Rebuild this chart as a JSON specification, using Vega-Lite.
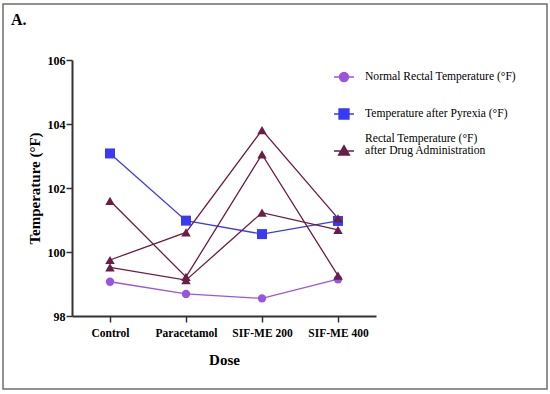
{
  "$schema": "https://vega.github.io/schema/vega-lite/v6.json",
  "autosize": "none",
  "width": 544,
  "height": 385,
  "padding": {"left": 3, "top": 4, "right": 3, "bottom": 5},
  "background": "white",
  "title": {
    "text": "A.",
    "anchor": "start",
    "frame": "group",
    "orient": "top",
    "offset": -37,
    "dx": 8,
    "baseline": "alphabetic",
    "font": "Liberation Serif",
    "fontSize": 16,
    "fontWeight": "bold",
    "color": "black"
  },
  "config": {
    "view": {"stroke": "#6e6e6e", "strokeWidth": 1.5},
    "font": "Liberation Serif"
  },
  "data": {
    "values": [
      {"dose": "Control", "temp": 99.07, "group": "Normal Rectal Temperature (°F)", "series": "N"},
      {"dose": "Paracetamol", "temp": 98.69, "group": "Normal Rectal Temperature (°F)", "series": "N"},
      {"dose": "SIF-ME 200", "temp": 98.55, "group": "Normal Rectal Temperature (°F)", "series": "N"},
      {"dose": "SIF-ME 400", "temp": 99.15, "group": "Normal Rectal Temperature (°F)", "series": "N"},
      {"dose": "Control", "temp": 103.08, "group": "Temperature after Pyrexia (°F)", "series": "P"},
      {"dose": "Paracetamol", "temp": 100.98, "group": "Temperature after Pyrexia (°F)", "series": "P"},
      {"dose": "SIF-ME 200", "temp": 100.56, "group": "Temperature after Pyrexia (°F)", "series": "P"},
      {"dose": "SIF-ME 400", "temp": 100.97, "group": "Temperature after Pyrexia (°F)", "series": "P"},
      {"dose": "Control", "temp": 99.75, "group": "Rectal Temperature (°F) after Drug Administration", "series": "T1"},
      {"dose": "Paracetamol", "temp": 100.61, "group": "Rectal Temperature (°F) after Drug Administration", "series": "T1"},
      {"dose": "SIF-ME 200", "temp": 103.81, "group": "Rectal Temperature (°F) after Drug Administration", "series": "T1"},
      {"dose": "SIF-ME 400", "temp": 101.05, "group": "Rectal Temperature (°F) after Drug Administration", "series": "T1"},
      {"dose": "Control", "temp": 101.6, "group": "Rectal Temperature (°F) after Drug Administration", "series": "T2"},
      {"dose": "Paracetamol", "temp": 99.22, "group": "Rectal Temperature (°F) after Drug Administration", "series": "T2"},
      {"dose": "SIF-ME 200", "temp": 103.05, "group": "Rectal Temperature (°F) after Drug Administration", "series": "T2"},
      {"dose": "SIF-ME 400", "temp": 99.26, "group": "Rectal Temperature (°F) after Drug Administration", "series": "T2"},
      {"dose": "Control", "temp": 99.52, "group": "Rectal Temperature (°F) after Drug Administration", "series": "T3"},
      {"dose": "Paracetamol", "temp": 99.12, "group": "Rectal Temperature (°F) after Drug Administration", "series": "T3"},
      {"dose": "SIF-ME 200", "temp": 101.23, "group": "Rectal Temperature (°F) after Drug Administration", "series": "T3"},
      {"dose": "SIF-ME 400", "temp": 100.69, "group": "Rectal Temperature (°F) after Drug Administration", "series": "T3"}
    ]
  },
  "encoding": {
    "x": {
      "field": "dose",
      "type": "nominal",
      "sort": ["Control", "Paracetamol", "SIF-ME 200", "SIF-ME 400"],
      "scale": {"type": "point", "range": [69, 373], "padding": 0.5},
      "axis": {
        "orient": "bottom",
        "offset": -73,
        "title": "Dose",
        "titleFont": "Liberation Serif",
        "titleFontSize": 15,
        "titleFontWeight": "bold",
        "titleColor": "black",
        "titlePadding": 14,
        "labelAngle": 0,
        "labelFont": "Liberation Serif",
        "labelFontSize": 11.5,
        "labelFontWeight": "bold",
        "labelColor": "black",
        "labelPadding": 5,
        "tickSize": 6,
        "tickWidth": 1.5,
        "tickColor": "#333",
        "domainColor": "#333",
        "domainWidth": 2,
        "grid": false
      }
    },
    "y": {
      "field": "temp",
      "type": "quantitative",
      "scale": {"domain": [98, 106], "range": [312, 56], "nice": false, "zero": false},
      "axis": {
        "orient": "left",
        "offset": -69,
        "values": [98, 100, 102, 104, 106],
        "title": "Temperature (°F)",
        "titleFont": "Liberation Serif",
        "titleFontSize": 15,
        "titleFontWeight": "bold",
        "titleColor": "black",
        "titlePadding": 5,
        "labelFont": "Liberation Serif",
        "labelFontSize": 12,
        "labelFontWeight": "bold",
        "labelColor": "black",
        "labelPadding": 1,
        "tickSize": 6,
        "tickWidth": 1.5,
        "tickColor": "#333",
        "domainColor": "#333",
        "domainWidth": 2,
        "grid": false
      }
    },
    "color": {
      "field": "group",
      "type": "nominal",
      "sort": ["Normal Rectal Temperature (°F)", "Temperature after Pyrexia (°F)", "Rectal Temperature (°F) after Drug Administration"],
      "scale": {
        "domain": ["Normal Rectal Temperature (°F)", "Temperature after Pyrexia (°F)", "Rectal Temperature (°F) after Drug Administration"],
        "range": ["#9a55e0", "#3a3af2", "#6b1d45"]
      },
      "legend": {
        "orient": "none",
        "legendX": 330,
        "legendY": 62,
        "title": null,
        "labelFont": "Liberation Serif",
        "labelFontSize": 11.6,
        "labelColor": "black",
        "labelLimit": 300,
        "labelOffset": 10,
        "rowPadding": 11,
        "symbolSize": 400,
        "symbolStrokeWidth": 1.3,
        "labelExpr": "datum.label == 'Rectal Temperature (°F) after Drug Administration' ? [' Rectal Temperature (°F)', 'after Drug Administration'] : ['', datum.label]",
        "encode": {
          "symbols": {
            "update": {
              "shape": {"signal": "datum.value == 'Normal Rectal Temperature (°F)' ? 'M-1,0H1M0.45,0A0.45,0.45 0 1 1 -0.45,0A0.45,0.45 0 1 1 0.45,0Z' : datum.value == 'Temperature after Pyrexia (°F)' ? 'M-1,0H1M-0.5,-0.5H0.5V0.5H-0.5Z' : 'M-1,0H1M0,-0.55L0.55,0.4L-0.55,0.4Z'"},
              "size": {"value": 400},
              "strokeWidth": {"value": 1.3}
            }
          },
          "labels": {
            "update": {
              "dy": {"value": -12},
              "lineHeight": {"value": 12}
            }
          }
        }
      }
    }
  },
  "layer": [
    {
      "mark": {"type": "line", "strokeWidth": 1.3},
      "encoding": {"detail": {"field": "series"}}
    },
    {
      "transform": [{"filter": "datum.group == 'Normal Rectal Temperature (°F)'"}],
      "mark": {"type": "point", "shape": "circle", "filled": true, "opacity": 1, "size": 70}
    },
    {
      "transform": [{"filter": "datum.group == 'Temperature after Pyrexia (°F)'"}],
      "mark": {"type": "point", "shape": "square", "filled": true, "opacity": 1, "size": 100}
    },
    {
      "transform": [{"filter": "datum.group == 'Rectal Temperature (°F) after Drug Administration'"}],
      "mark": {"type": "point", "shape": "triangle-up", "filled": true, "opacity": 1, "size": 90}
    }
  ]
}
